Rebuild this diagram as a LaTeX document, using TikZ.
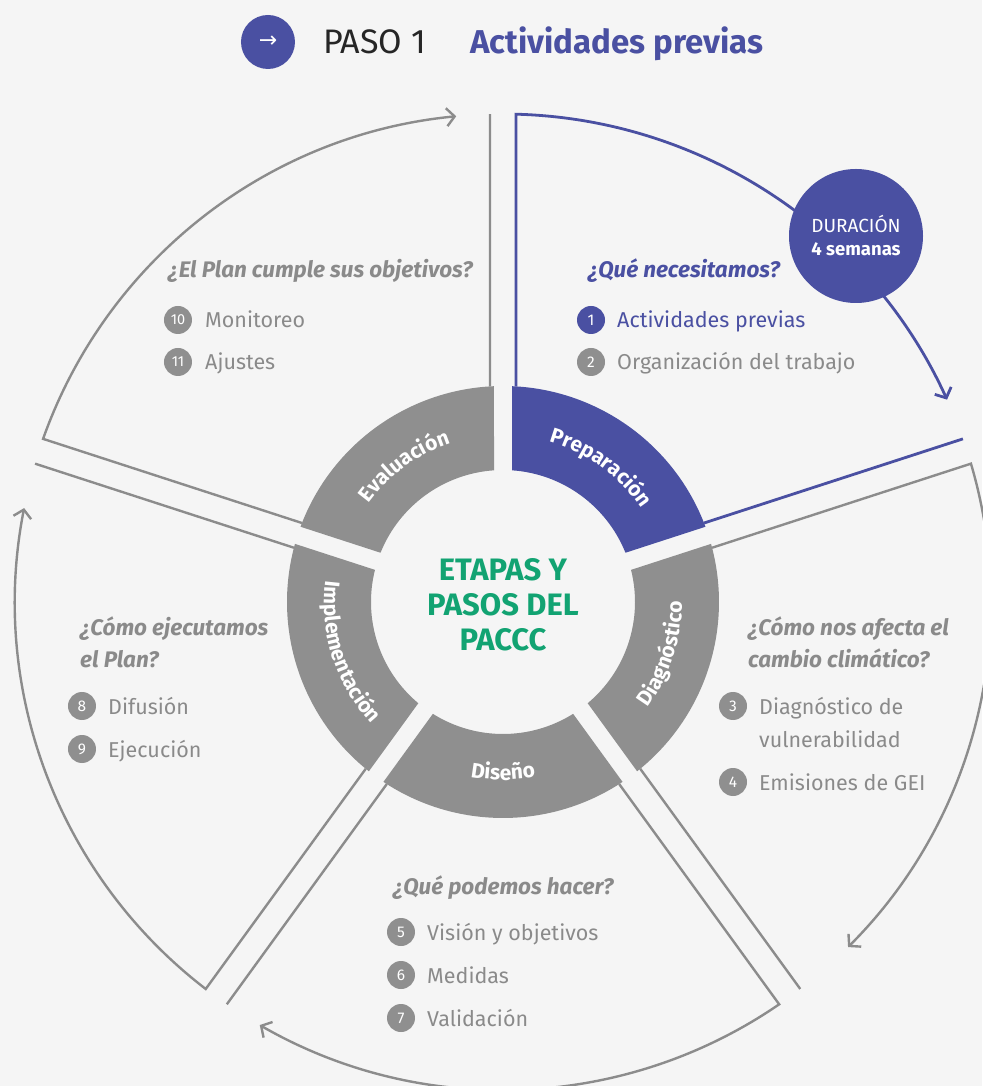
\documentclass[tikz,border=0pt]{standalone}
\usepackage{fontspec}
\setmainfont{Fira Sans}
\newfontfamily\symfont{DejaVu Sans}
\usetikzlibrary{arrows.meta,decorations.text}
\definecolor{bg}{HTML}{F5F5F5}
\definecolor{pblue}{HTML}{4A50A2}
\definecolor{ringgray}{HTML}{8F8F8F}
\definecolor{linegray}{HTML}{8C8C8C}
\definecolor{txtgray}{HTML}{8A8A8A}
\definecolor{pgreen}{HTML}{12A372}
\definecolor{dark}{HTML}{262626}
\newcommand\seglabfont{\fontsize{21}{21}\selectfont\bfseries}
\begin{document}
\begin{tikzpicture}[x=1pt,y=1pt,
  outl/.style={line width=2.4pt, draw=linegray, line join=miter},
  outlb/.style={line width=2.8pt, draw=pblue, line join=miter},
  arr/.style={-{Straight Barb[length=8pt,width=18pt]}},
  qtext/.style={font=\fontsize{22.5}{26}\selectfont\bfseries\itshape, text=txtgray, anchor=base west, inner sep=0pt},
  itemtext/.style={font=\fontsize{21.5}{26}\selectfont, text=txtgray, anchor=base west, inner sep=0pt},
  numdot/.style={circle, fill=ringgray, minimum size=28pt, inner sep=0pt, text=white, font=\fontsize{15.5}{15.5}\selectfont},
]
\useasboundingbox[fill=bg] (-503,-484) rectangle (479,602);

% ring segments
\foreach \a/\b/\col in {90/162/ringgray, 18/90/pblue, -54/18/ringgray, -126/-54/ringgray, 162/234/ringgray}
  \fill[fill=\col] ({\a+2.39}:216) arc[start angle={\a+2.39}, end angle={\b-2.39}, radius=216]
     -- ({\b-3.91}:132) arc[start angle={\b-3.91}, end angle={\a+3.91}, radius=132] -- cycle;

% segment labels
\path[decorate, decoration={text along path, text align=center, text color=white, text={|\seglabfont|Evaluación}}]
  (162:167) arc[start angle=162, end angle=90, radius=167];
\path[decorate, decoration={text along path, text align=center, text color=white, text={|\seglabfont|Preparación}}]
  (90:167) arc[start angle=90, end angle=18, radius=167];
\path[decorate, decoration={text along path, text align=center, text color=white, text={|\seglabfont|Diagnóstico}}]
  (-54:179) arc[start angle=-54, end angle=18, radius=179];
\path[decorate, decoration={text along path, text align=center, text color=white, text={|\seglabfont|Diseño}}]
  (-126:178) arc[start angle=-126, end angle=-54, radius=178];
\path[decorate, decoration={text along path, text align=center, text color=white, text={|\seglabfont|Implementación}}]
  (162:179) arc[start angle=162, end angle=234, radius=179];

% outlines of the sectors
\draw[outl] (93.45:216) -- (91.53:488);
\draw[outl,arr] (158.55:216) -- (160.47:488) arc[start angle=160.47, end angle=95.5, radius=488];
\draw[outlb,arr] (86.55:216) -- (88.47:488) arc[start angle=88.47, end angle=24.5, radius=488];
\draw[outlb] (21.45:216) -- (19.53:488);
\draw[outl,arr] (14.55:216) -- (16.47:488) arc[start angle=16.47, end angle=-45, radius=488];
\draw[outl] (-50.55:216) -- (-52.47:488);
\draw[outl,arr] (-57.45:216) -- (-55.53:488) arc[start angle=-55.53, end angle=-119.9, radius=488];
\draw[outl] (-122.55:216) -- (-124.47:488);
\draw[outl,arr] (230.55:216) -- (232.47:488) arc[start angle=232.47, end angle=168.9, radius=488];
\draw[outl] (165.45:216) -- (163.53:488);

% centre
\node[font=\fontsize{31}{35}\selectfont\bfseries, text=pgreen, align=center] (centre) at (0,-3) {ETAPAS Y\\PASOS DEL\\PACCC};

\begin{scope}[shift={(-503,602)}, y=-1pt]
% title
\node[circle, fill=pblue, minimum size=54pt, inner sep=0pt, text=white, font=\symfont\fontsize{22}{22}\selectfont] (stepicon) at (268,42) {→};
\node[anchor=base west, inner sep=0pt, font=\fontsize{34}{34}\selectfont, text=dark] (paso) at (323,54) {PASO 1};
\node[anchor=base west, inner sep=0pt, font=\fontsize{33}{33}\selectfont\bfseries, text=pblue] (title) at (470,54) {Actividades previas};

% duration
\node[circle, fill=pblue, minimum size=134pt, inner sep=0pt] (dur) at (856,236) {};
\node[text=white, font=\fontsize{19}{19}\selectfont, inner sep=0pt] (durA) at (856,224) {DURACIÓN};
\node[text=white, font=\fontsize{18.5}{18.5}\selectfont\bfseries, inner sep=0pt] (durB) at (856,249) {4 semanas};

% Preparación
\node[qtext, text=pblue] (q1) at (588,278) {¿Qué necesitamos?};
\node[numdot, fill=pblue] (n1) at (591,320) {1};
\node[itemtext, text=pblue] (t1) at (617,328) {Actividades previas};
\node[numdot] (n2) at (591,362) {2};
\node[itemtext] (t2) at (617,370) {Organización del trabajo};

% Evaluación
\node[qtext] (q5) at (168,278) {¿El Plan cumple sus objetivos?};
\node[numdot, font=\fontsize{14.5}{14.5}\selectfont] (n10) at (178,320) {10};
\node[itemtext] (t10) at (205,328) {Monitoreo};
\node[numdot, font=\fontsize{14.5}{14.5}\selectfont] (n11) at (178,362) {11};
\node[itemtext] (t11) at (205,370) {Ajustes};

% Implementación
\node[qtext] (q4a) at (80,636) {¿Cómo ejecutamos};
\node[qtext] (q4b) at (80,668) {el Plan?};
\node[numdot] (n8) at (82,706) {8};
\node[itemtext] (t8) at (108,714) {Difusión};
\node[numdot] (n9) at (82,749) {9};
\node[itemtext] (t9) at (108,757) {Ejecución};

% Diagnóstico
\node[qtext] (q2a) at (748,636) {¿Cómo nos afecta el};
\node[qtext] (q2b) at (748,668) {cambio climático?};
\node[numdot] (n3) at (733,706) {3};
\node[itemtext] (t3a) at (759,714) {Diagnóstico de};
\node[itemtext] (t3b) at (759,747) {vulnerabilidad};
\node[numdot] (n4) at (733,782) {4};
\node[itemtext] (t4) at (759,790) {Emisiones de GEI};

% Diseño
\node[qtext] (q3) at (393,894) {¿Qué podemos hacer?};
\node[numdot] (n5) at (401,932) {5};
\node[itemtext] (t5) at (427,940) {Visión y objetivos};
\node[numdot] (n6) at (401,975) {6};
\node[itemtext] (t6) at (427,983) {Medidas};
\node[numdot] (n7) at (401,1018) {7};
\node[itemtext] (t7) at (427,1026) {Validación};
\end{scope}
\end{tikzpicture}
\end{document}
